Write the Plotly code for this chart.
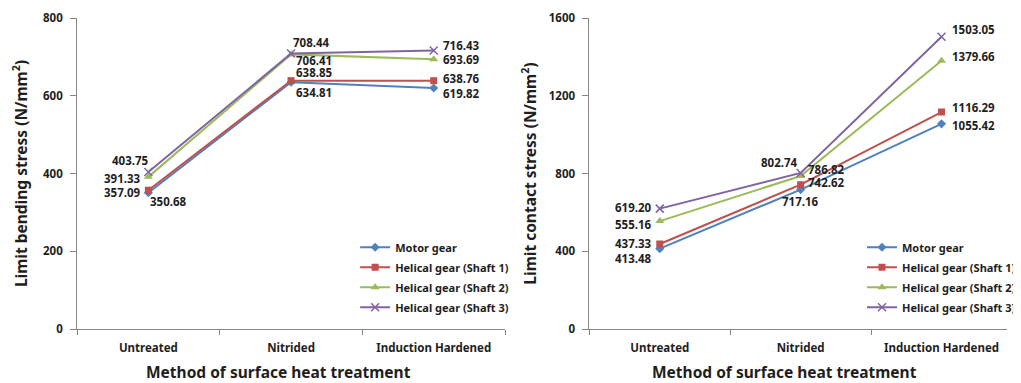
import plotly.graph_objects as go

categories = ["Untreated", "Nitrided", "Induction Hardened"]
series_names = ["Motor gear", "Helical gear (Shaft 1)", "Helical gear (Shaft 2)", "Helical gear (Shaft 3)"]

bending_motor = [350.68, 634.81, 619.82]
bending_shaft1 = [357.09, 638.85, 638.76]
bending_shaft2 = [391.33, 706.41, 693.69]
bending_shaft3 = [403.75, 708.44, 716.43]

contact_motor = [413.48, 717.16, 1055.42]
contact_shaft1 = [437.33, 742.62, 1116.29]
contact_shaft2 = [555.16, 786.82, 1379.66]
contact_shaft3 = [619.20, 802.74, 1503.05]

bending_ticks = [0, 200, 400, 600, 800]
contact_ticks = [0, 400, 800, 1200, 1600]

x_title = "Method of surface heat treatment"
bending_title = "Limit bending stress (N/mm<sup>2</sup>)"
contact_title = "Limit contact stress (N/mm<sup>2</sup>)"

# styles
colors = ["#4F81BD", "#C0504D", "#9BBB59", "#8064A2"]
symbols = ["diamond", "square", "triangle-up", "x-thin"]
msizes = [7, 7, 8, 8]
FONT = "Noto Sans"
TXT = "#1e1e1e"

# label placement (xanchor, xshift, yshift) per series per category
bend_pos = [
    [("left", 0, -9), ("left", 3, -10), ("left", 7, -5)],
    [("right", -5, -2), ("left", 3, 8), ("left", 7, 2)],
    [("right", -5, -2), ("left", 3, -6), ("left", 7, 0)],
    [("right", 3, 12), ("left", 0, 11), ("left", 7, 5)],
]
cont_pos = [
    [("right", -6, -10), ("center", 0, -12), ("left", 8, -2)],
    [("right", -6, 0), ("left", 5, 2), ("left", 8, 5)],
    [("right", -6, -3), ("left", 5, 7), ("left", 8, 4)],
    [("right", -6, 1), ("right", -1, 10), ("left", 8, 7)],
]

bending = [bending_motor, bending_shaft1, bending_shaft2, bending_shaft3]
contact = [contact_motor, contact_shaft1, contact_shaft2, contact_shaft3]

# page body has an 8px margin: figure is sized to fit the 1021x383 window
W, H = 1013, 375
T, B = 9.5, 53.5
PH = H - T - B

fig = go.Figure()
annotations = []

for panel, (data, pos, xa, ya, leg, grp) in enumerate([
    (bending, bend_pos, "x", "y", "legend", "b"),
    (contact, cont_pos, "x2", "y2", "legend2", "c"),
]):
    for i, vals in enumerate(data):
        marker = dict(symbol=symbols[i], size=msizes[i], color=colors[i])
        if symbols[i] == "x-thin":
            marker["line"] = dict(color=colors[i], width=1.5)
        fig.add_trace(go.Scatter(
            x=categories, y=vals, name=series_names[i], mode="lines+markers",
            line=dict(color=colors[i], width=2), marker=marker,
            xaxis=xa, yaxis=ya, legend=leg, legendgroup=f"{grp}{i}",
        ))
        for j, v in enumerate(vals):
            anc, xs, ys = pos[i][j]
            annotations.append(dict(
                x=categories[j], y=v, xref=xa, yref=ya, text=f"{v:.2f}",
                showarrow=False, xanchor=anc, yanchor="middle", xshift=xs, yshift=ys,
                font=dict(family=FONT, size=11.5, color=TXT, weight="bold"),
            ))

title_font = dict(family=FONT, size=15.5, color=TXT, weight="bold")
for cx in (274, 787):
    annotations.append(dict(
        x=cx / W, y=(H - B - 365) / PH, xref="paper", yref="paper", text=x_title,
        showarrow=False, xanchor="center", yanchor="middle", font=title_font,
    ))

axis_common = dict(
    showgrid=False, zeroline=False, showline=True, linecolor="#868686", linewidth=1,
    ticks="outside", tickcolor="#868686",
    tickfont=dict(family=FONT, size=11.5, color=TXT, weight="bold"),
)
xcommon = dict(type="category", tickson="boundaries", ticklen=5, ticklabelstandoff=8,
               automargin=False, **axis_common)
ycommon = dict(ticklen=6, ticklabelstandoff=5, automargin=False, **axis_common)

leg_font = dict(family=FONT, size=11, color=TXT, weight="bold")
leg_y = 1 - (225 - T) / PH

fig.update_layout(
    width=W, height=H,
    margin=dict(l=0, r=0, t=T, b=B),
    paper_bgcolor="white", plot_bgcolor="white",
    annotations=annotations,
    xaxis=dict(domain=[70 / W, 504 / W], range=[-0.5, 2.5], **xcommon),
    yaxis=dict(range=[0, 800], tickvals=bending_ticks,
               title=dict(text=bending_title, font=title_font, standoff=15), **ycommon),
    xaxis2=dict(domain=[589.5 / W, 1.0], range=[-0.5, 2.465], anchor="y2", **xcommon),
    yaxis2=dict(range=[0, 1600], tickvals=contact_ticks, anchor="x2",
                title=dict(text=contact_title, font=title_font, standoff=8), **ycommon),
    legend=dict(x=352 / W, y=leg_y, xanchor="left", yanchor="top", tracegroupgap=1,
                bgcolor="rgba(0,0,0,0)", itemwidth=30, font=leg_font),
    legend2=dict(x=866 / W, y=leg_y, xanchor="left", yanchor="top", tracegroupgap=1,
                 bgcolor="rgba(0,0,0,0)", itemwidth=30, font=leg_font),
    showlegend=True,
)

fig.write_html("out.html")
